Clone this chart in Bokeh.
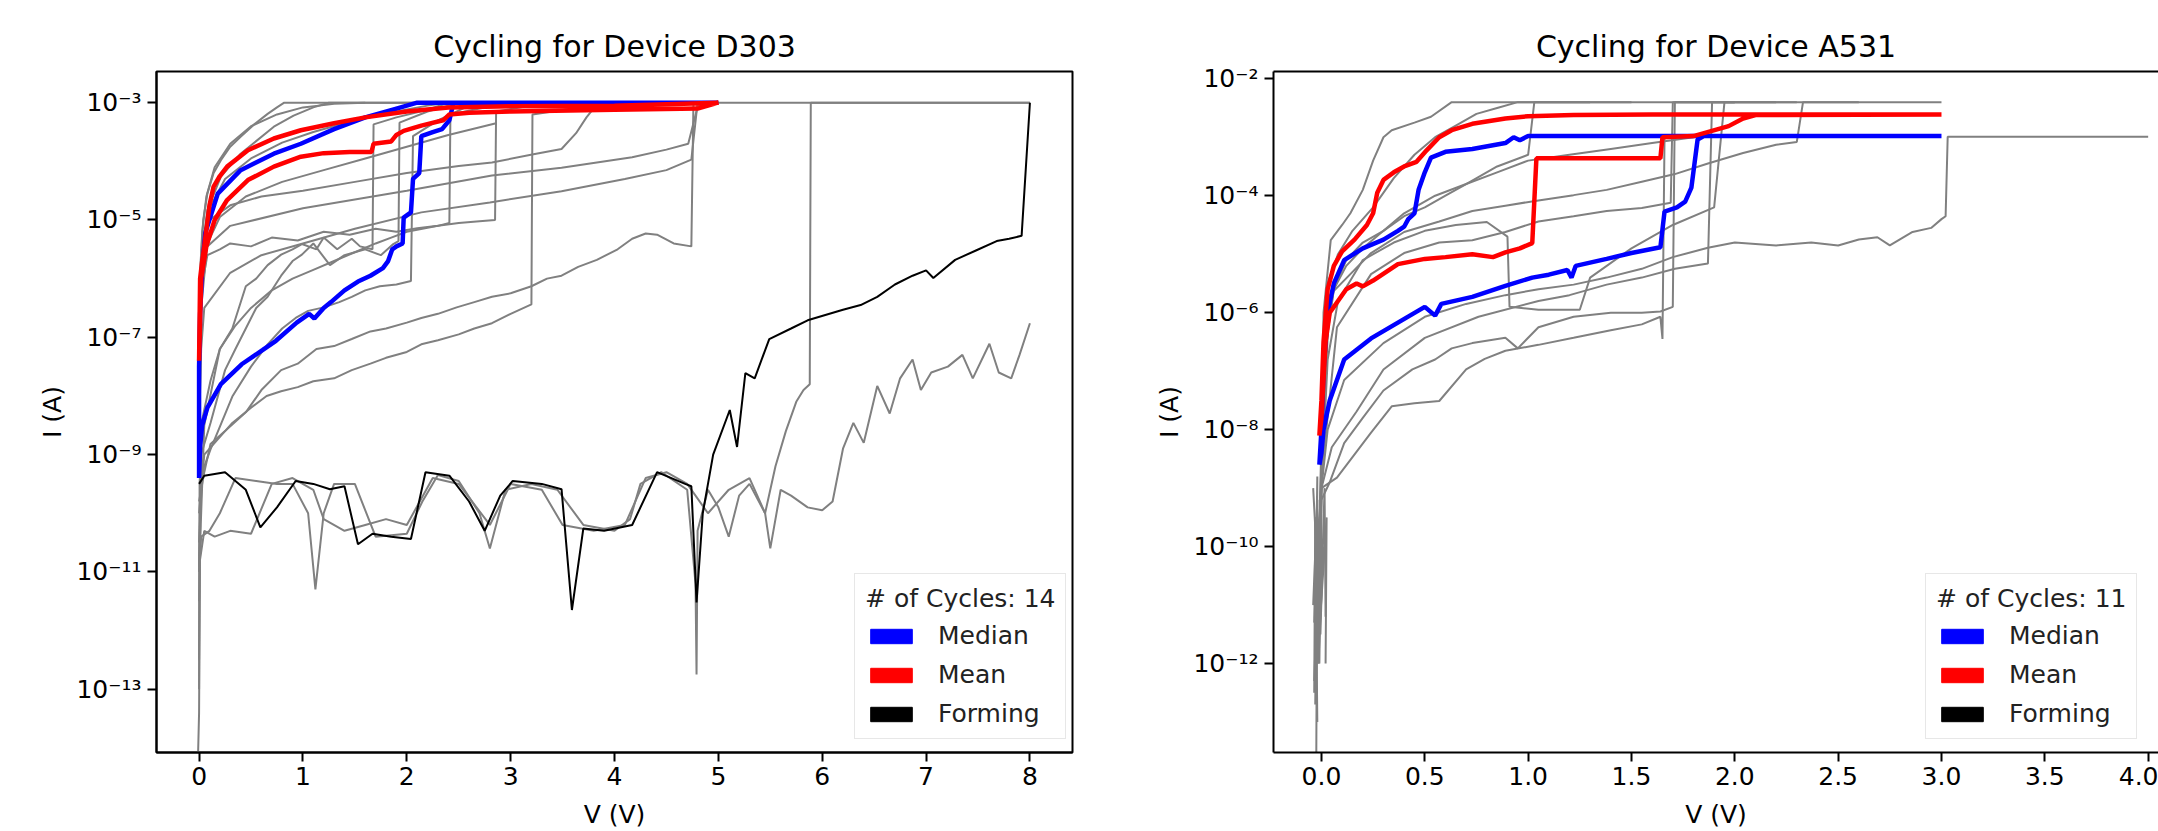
import numpy as np
from bokeh.plotting import figure
from bokeh.models import (Range1d, FixedTicker, CustomJSTickFormatter, PrintfTickFormatter,
                          Legend, LegendItem, LinearAxis)
from bokeh.layouts import row
from bokeh.embed import file_html
from bokeh.resources import INLINE

FONT = "DejaVu Sans"

# ---------------- Device D303 (left) : V in volts, log10 of current in A ----------------
d303_title = "Cycling for Device D303"
d303_cycles_label = "# of Cycles: 14"
d303_xticks = [0, 1, 2, 3, 4, 5, 6, 7, 8]
d303_yticks = [1e-3, 1e-5, 1e-7, 1e-9, 1e-11, 1e-13]

d303_median_v = [0.0, 0.01, 0.03, 0.08, 0.21, 0.41, 0.61, 0.74, 0.94, 1.06, 1.11, 1.2, 1.27, 1.4, 1.53, 1.65, 1.77,
                 1.82, 1.86, 1.9, 1.96, 1.97, 2.04, 2.06, 2.12, 2.14, 2.25, 2.34, 2.41, 2.45, 5.0,
                 2.1, 1.9, 1.6, 1.3, 0.98, 0.72, 0.4, 0.18, 0.06, 0.03, 0.01, 0.0, 0.0]
d303_median_logi = [-9.4, -8.86, -8.5, -8.2, -7.8, -7.46, -7.22, -7.06, -6.75, -6.6, -6.68, -6.5, -6.4, -6.2, -6.05,
                    -5.95, -5.82, -5.7, -5.5, -5.45, -5.4, -4.96, -4.87, -4.3, -4.2, -3.57, -3.5, -3.45, -3.3, -3.0,
                    -3.0, -3.0, -3.1, -3.25, -3.45, -3.7, -3.87, -4.15, -4.55, -5.22, -5.8, -6.6, -7.5, -9.4]

d303_mean_v = [0.0, 0.02, 0.07, 0.15, 0.27, 0.47, 0.72, 0.98, 1.2, 1.45, 1.66, 1.68, 1.85, 1.9, 1.97, 2.14, 2.35,
               2.41, 2.6, 3.0, 4.0, 4.8, 5.0,
               4.0, 3.0, 2.4, 2.0, 1.6, 1.3, 0.98, 0.72, 0.47, 0.27, 0.2, 0.14, 0.1, 0.05, 0.03, 0.01, 0.0]
d303_mean_logi = [-7.4, -6.0, -5.45, -5.0, -4.66, -4.32, -4.09, -3.92, -3.86, -3.84, -3.84, -3.7, -3.66, -3.55, -3.48,
                  -3.39, -3.3, -3.2, -3.17, -3.15, -3.12, -3.1, -3.0,
                  -3.05, -3.06, -3.08, -3.15, -3.25, -3.35, -3.47, -3.61, -3.81, -4.09, -4.25, -4.43, -4.75, -5.45,
                  -5.7, -6.0, -7.4]

d303_forming_v = [0.0, 0.05, 0.25, 0.45, 0.59, 0.75, 0.93, 1.1, 1.26, 1.4, 1.53, 1.67, 1.85, 2.04, 2.18, 2.41, 2.6,
                  2.75, 2.9, 3.02, 3.3, 3.49, 3.59, 3.7, 3.9, 4.17, 4.41, 4.68, 4.74, 4.79, 4.85, 4.95, 5.11, 5.18,
                  5.26, 5.35, 5.49, 5.7, 5.86, 6.03, 6.2, 6.37, 6.53, 6.7, 6.87, 7.0, 7.07, 7.28, 7.48, 7.68, 7.8,
                  7.92, 8.0]
d303_forming_logi = [-9.5, -9.36, -9.3, -9.6, -10.24, -9.9, -9.45, -9.5, -9.59, -9.54, -10.53, -10.35, -10.4, -10.44,
                     -9.3, -9.36, -9.8, -10.3, -9.7, -9.45, -9.5, -9.59, -11.65, -10.26, -10.3, -10.2, -9.3, -9.5,
                     -9.54, -11.52, -10.0, -9.0, -8.24, -8.87, -7.61, -7.7, -7.03, -6.85, -6.71, -6.62, -6.53, -6.45,
                     -6.31, -6.1, -5.95, -5.86, -5.99, -5.68, -5.52, -5.36, -5.32, -5.27, -3.0]

d303_low1_v = [-0.015, 0.0, 0.01, 0.0, 0.02, 0.1, 0.2, 0.35, 0.55, 0.75, 0.9, 1.05, 1.12, 1.2, 1.3, 1.5, 1.7, 2.0,
               2.15, 2.3, 2.5, 2.7, 2.8, 2.95, 3.2, 3.45, 3.7, 4.0, 4.15, 4.25, 4.45, 4.7, 4.78, 4.79, 4.8, 4.9, 5.0,
               5.1, 5.2, 5.3, 5.45, 5.5, 5.6, 5.7, 5.86, 6.0, 6.1, 6.2, 6.3, 6.4, 6.53, 6.65, 6.75, 6.87, 6.95, 7.05,
               7.21, 7.35, 7.45, 7.61, 7.7, 7.82, 7.9, 8.0]
d303_low1_logi = [-14.5, -13.4, -10.2, -11.0, -10.4, -10.3, -10.0, -9.4, -9.45, -9.5, -9.5, -10.0, -11.3, -10.0,
                  -9.5, -9.5, -10.4, -10.35, -9.8, -9.35, -9.45, -10.0, -10.6, -9.6, -9.5, -9.6, -10.2, -10.3, -10.1,
                  -9.5, -9.3, -9.6, -11.2, -12.75, -10.3, -9.6, -9.9, -10.4, -9.7, -9.5, -10.0, -10.6, -9.6, -9.7,
                  -9.9, -9.95, -9.8, -8.9, -8.46, -8.8, -7.83, -8.3, -7.7, -7.38, -7.9, -7.6, -7.5, -7.3, -7.7,
                  -7.11, -7.6, -7.7, -7.3, -6.76]

d303_low2_v = [0.0, 0.01, 0.0, 0.05, 0.15, 0.3, 0.5, 0.7, 0.9, 1.1, 1.2, 1.4, 1.6, 1.8, 2.0, 2.25, 2.5, 2.8, 3.0,
               3.3, 3.5, 3.8, 4.1, 4.3, 4.5, 4.7, 4.9, 5.1, 5.3, 5.45, 5.55, 5.65, 5.75, 5.82, 5.88, 5.89, 8.0]
d303_low2_logi = [-12.5, -9.6, -10.9, -10.3, -10.4, -10.3, -10.35, -9.5, -9.4, -9.6, -10.1, -10.3, -10.2, -10.1,
                  -10.2, -9.4, -9.5, -10.2, -9.5, -9.6, -10.2, -10.3, -10.2, -9.4, -9.3, -9.5, -10.0, -9.6, -9.4,
                  -10.0, -9.2, -8.6, -8.1, -7.9, -7.8, -3.0, -3.0]

d303_f1_v = [0.0, 0.005, 0.03, 0.11, 0.2, 0.32, 0.45, 0.55, 0.66, 0.79, 0.9, 0.99, 1.13, 1.2, 1.33, 1.47, 1.55,
             1.67, 1.68, 1.9, 2.2, 2.4]
d303_f1_logi = [-13.0, -9.5, -8.4, -7.74, -7.2, -6.85, -6.13, -6.0, -5.77, -5.59, -5.5, -5.41, -5.5, -5.3, -5.5,
                -5.32, -5.45, -5.5, -3.37, -3.25, -3.12, -3.0]
d303_f2_v = [0.0, 0.02, 0.11, 0.25, 0.35, 0.45, 0.55, 0.66, 0.79, 0.9, 0.99, 1.1, 1.26, 1.4, 1.6, 1.75, 1.87, 1.92,
             1.93, 2.2, 2.5]
d303_f2_logi = [-11.5, -9.0, -8.46, -7.56, -7.2, -6.85, -6.5, -6.31, -5.95, -5.7, -5.59, -5.4, -5.77, -5.6, -5.5,
                -5.6, -5.41, -5.36, -3.34, -3.15, -3.0]
d303_f3_v = [0.0, 0.03, 0.11, 0.32, 0.5, 0.66, 0.8, 0.93, 1.05, 1.2, 1.35, 1.47, 1.6, 1.74, 1.9, 2.04, 2.06, 2.3, 2.6]
d303_f3_logi = [-10.5, -9.3, -8.91, -8.01, -7.5, -7.12, -6.85, -6.67, -6.55, -6.49, -6.4, -6.31, -6.2, -6.13, -6.1,
                -6.04, -3.57, -3.3, -3.05]
d303_f4_v = [0.0, 0.05, 0.2, 0.35, 0.5, 0.7, 0.9, 1.1, 1.3, 1.5, 1.7, 1.85, 2.0, 2.15, 2.3, 2.41, 2.42, 2.7, 3.0]
d303_f4_logi = [-11.0, -8.5, -7.2, -6.8, -6.5, -6.2, -6.0, -5.85, -5.7, -5.55, -5.4, -5.3, -5.2, -5.15, -5.1, -5.05,
                -3.2, -3.1, -3.0]
d303_f5_v = [0.0, 0.02, 0.08, 0.2, 0.3, 0.5, 0.7, 0.95, 1.2, 1.45, 1.7, 1.9, 2.1, 2.3, 2.5, 2.7, 2.85, 2.86, 3.2, 3.5]
d303_f5_logi = [-9.0, -6.2, -5.6, -5.5, -5.4, -5.45, -5.3, -5.35, -5.2, -5.25, -5.15, -5.2, -5.14, -5.1, -5.05,
                -5.02, -5.0, -3.15, -3.05, -3.0]
d303_f6_v = [0.0, 0.05, 0.15, 0.32, 0.5, 0.65, 0.79, 0.95, 1.1, 1.3, 1.47, 1.65, 1.8, 2.0, 2.14, 2.3, 2.5, 2.65,
             2.82, 3.0, 3.2, 3.21, 3.6, 4.0]
d303_f6_logi = [-10.0, -9.0, -8.8, -8.46, -8.2, -8.0, -7.92, -7.85, -7.75, -7.7, -7.56, -7.45, -7.35, -7.25, -7.12,
                -7.05, -6.95, -6.85, -6.76, -6.6, -6.44, -3.2, -3.1, -3.0]
d303_f7_v = [0.0, 0.05, 0.11, 0.25, 0.45, 0.6, 0.79, 0.95, 1.13, 1.3, 1.47, 1.65, 1.8, 2.0, 2.14, 2.3, 2.48, 2.65,
             2.82, 3.0, 3.2, 3.35, 3.49, 3.65, 3.83, 4.03, 4.17, 4.3, 4.41, 4.57, 4.74, 4.76, 5.0]
d303_f7_logi = [-9.8, -9.3, -8.82, -8.6, -8.28, -7.9, -7.56, -7.45, -7.2, -7.15, -7.03, -6.9, -6.85, -6.75, -6.67,
                -6.6, -6.49, -6.4, -6.31, -6.25, -6.13, -6.0, -5.95, -5.8, -5.68, -5.5, -5.32, -5.23, -5.25, -5.4,
                -5.45, -3.0, -3.0]
d303_f8_v = [0.0, 0.01, 0.04, 0.1, 0.3, 0.6, 1.0, 1.5, 2.0, 2.5, 2.82, 3.22, 3.49, 3.63, 3.73, 3.83, 3.9]
d303_f8_logi = [-7.5, -6.0, -5.3, -5.0, -4.75, -4.6, -4.5, -4.35, -4.2, -4.08, -4.02, -3.88, -3.79, -3.52, -3.25,
                -3.03, -3.0]
d303_f9_v = [0.0, 0.01, 0.05, 0.3, 1.0, 2.0, 2.82, 3.49, 4.17, 4.5, 4.71, 4.81]
d303_f9_logi = [-8.0, -6.5, -5.5, -5.1, -4.8, -4.5, -4.24, -4.11, -3.93, -3.8, -3.7, -3.0]
d303_f10_v = [0.0, 0.02, 0.05, 0.3, 0.6, 1.0, 1.5, 2.14, 2.8, 3.49, 4.1, 4.5, 4.74, 4.8]
d303_f10_logi = [-8.5, -7.2, -6.5, -5.9, -5.6, -5.4, -5.15, -4.87, -4.7, -4.51, -4.3, -4.15, -3.97, -3.0]

d303_r1_v = [0.0, 0.005, 0.016, 0.04, 0.08, 0.14, 0.21, 0.3, 0.4, 0.53, 0.66, 0.75, 0.82, 8.0]
d303_r1_logi = [-8.0, -6.5, -5.68, -5.0, -4.55, -4.2, -3.98, -3.75, -3.58, -3.37, -3.19, -3.08, -3.0, -3.0]
d303_r2_v = [0.0, 0.01, 0.03, 0.08, 0.21, 0.4, 0.72, 0.91, 1.1, 1.25, 2.5]
d303_r2_logi = [-8.5, -6.3, -5.5, -4.83, -4.26, -3.87, -3.41, -3.22, -3.08, -3.0, -3.0]
d303_r3_v = [0.0, 0.01, 0.04, 0.1, 0.25, 0.5, 0.8, 1.1, 1.5, 1.9, 2.2, 2.4]
d303_r3_logi = [-9.0, -6.5, -5.4, -4.8, -4.3, -3.95, -3.68, -3.5, -3.3, -3.15, -3.05, -3.0]
d303_r4_v = [0.0, 0.02, 0.08, 0.2, 0.45, 0.8, 1.2, 1.6, 2.0, 2.4, 2.86]
d303_r4_logi = [-9.2, -6.5, -5.4, -4.95, -4.6, -4.35, -4.15, -3.95, -3.75, -3.55, -3.35]
d303_r5_v = [0.0, 0.01, 0.03, 0.07, 0.15, 0.3, 0.5, 0.75, 1.0, 1.3, 1.6]
d303_r5_logi = [-7.8, -6.0, -5.2, -4.6, -4.1, -3.7, -3.4, -3.2, -3.08, -3.02, -3.0]

# ---------------- Device A531 (right) ----------------
a531_title = "Cycling for Device A531"
a531_cycles_label = "# of Cycles: 11"
a531_xticks = [0.0, 0.5, 1.0, 1.5, 2.0, 2.5, 3.0, 3.5, 4.0]
a531_yticks = [1e-2, 1e-4, 1e-6, 1e-8, 1e-10, 1e-12]

a531_median_v = [-0.01, 0.0, 0.01, 0.04, 0.11, 0.24, 0.37, 0.5, 0.55, 0.58, 0.73, 0.89, 1.02, 1.1, 1.19, 1.21, 1.23,
                 1.38, 1.5, 1.64, 1.66, 1.72, 1.76, 1.79, 1.82, 1.85, 3.0,
                 1.0, 0.96, 0.93, 0.89, 0.73, 0.6, 0.53, 0.5, 0.47, 0.45, 0.42, 0.4, 0.37, 0.3, 0.2, 0.11, 0.06,
                 0.03, 0.01, 0.0, -0.01]
a531_median_logi = [-8.6, -8.4, -8.0, -7.5, -6.8, -6.44, -6.17, -5.9, -6.05, -5.85, -5.73, -5.54, -5.4, -5.35, -5.27,
                    -5.4, -5.2, -5.08, -4.98, -4.88, -4.27, -4.2, -4.1, -3.86, -3.04, -2.98, -2.98,
                    -2.98, -3.05, -3.0, -3.1, -3.2, -3.25, -3.35, -3.6, -3.9, -4.3, -4.4, -4.53, -4.6, -4.75, -4.9,
                    -5.1, -5.5, -6.0, -7.0, -8.0, -8.6]

a531_mean_v = [-0.01, 0.0, 0.02, 0.04, 0.08, 0.12, 0.17, 0.2, 0.25, 0.37, 0.5, 0.6, 0.73, 0.83, 0.89, 0.96, 1.02,
               1.04, 1.2, 1.4, 1.64, 1.65, 1.8, 1.97, 2.04, 2.1, 3.0,
               1.6, 1.22, 1.0, 0.89, 0.73, 0.63, 0.57, 0.51, 0.46, 0.4, 0.35, 0.3, 0.27, 0.25, 0.22, 0.16, 0.1,
               0.06, 0.03, 0.01, 0.0, -0.01]
a531_mean_logi = [-8.1, -7.8, -6.5, -6.0, -5.8, -5.6, -5.5, -5.55, -5.45, -5.17, -5.08, -5.05, -5.0, -5.05, -4.97,
                  -4.9, -4.81, -3.36, -3.36, -3.36, -3.36, -3.0, -2.98, -2.81, -2.68, -2.62, -2.61,
                  -2.61, -2.62, -2.64, -2.68, -2.77, -2.88, -3.0, -3.22, -3.42, -3.5, -3.6, -3.73, -3.95, -4.3, -4.5,
                  -4.75, -4.95, -5.2, -5.6, -6.5, -7.5, -8.1]

a531_g1_v = [-0.03, -0.035, -0.02, -0.025, 0.0, 0.01, 0.045, 0.1, 0.14, 0.2, 0.25, 0.3, 0.34, 0.45, 0.53, 0.63, 3.0]
a531_g1_logi = [-9.5, -12.5, -8.8, -11.8, -8.5, -6.0, -4.76, -4.5, -4.3, -3.9, -3.4, -3.0, -2.88, -2.75, -2.65,
                -2.4, -2.4]
a531_g2_v = [-0.04, -0.01, -0.03, 0.005, 0.03, 0.08, 0.15, 0.25, 0.35, 0.45, 0.55, 0.65, 0.75, 0.85, 0.95, 1.3]
a531_g2_logi = [-9.0, -11.0, -12.4, -7.5, -5.5, -5.0, -4.6, -4.2, -3.7, -3.3, -3.0, -2.8, -2.6, -2.5, -2.4, -2.4]
a531_g3_v = [-0.03, -0.02, -0.04, 0.0, 0.02, 0.06, 0.12, 0.2, 0.3, 0.4, 0.5, 0.6, 0.7, 0.85, 1.0, 1.03, 1.5]
a531_g3_logi = [-12.7, -9.2, -11.0, -9.0, -6.5, -5.6, -5.2, -4.9, -4.6, -4.35, -4.2, -4.0, -3.8, -3.5, -3.3, -2.4,
                -2.4]
a531_g4_v = [-0.02, -0.03, -0.01, 0.0, 0.075, 0.24, 0.34, 0.45, 0.57, 0.7, 0.79, 0.89, 1.05, 1.22, 1.4, 1.55, 1.64,
             1.65, 1.66, 2.0]
a531_g4_logi = [-13.0, -9.5, -12.0, -9.0, -8.82, -8.05, -7.6, -7.55, -7.51, -6.97, -6.79, -6.65, -6.55, -6.43, -6.3,
                -6.2, -6.07, -6.45, -2.98, -2.98]
a531_g5_v = [-0.015, 0.01, -0.02, 0.0, 0.04, 0.11, 0.2, 0.3, 0.44, 0.55, 0.63, 0.73, 0.89, 0.95, 1.05, 1.22, 1.4,
             1.55, 1.64, 1.7, 1.71, 2.0]
a531_g5_logi = [-12.0, -10.0, -11.5, -9.2, -8.9, -8.23, -7.8, -7.33, -6.97, -6.8, -6.61, -6.52, -6.43, -6.61, -6.25,
                -6.07, -6.0, -6.0, -5.98, -5.9, -2.4, -2.4]
a531_g6_v = [0.02, 0.015, -0.005, 0.0, 0.05, 0.17, 0.3, 0.5, 0.76, 1.05, 1.2, 1.38, 1.55, 1.71, 1.87, 1.89, 2.2]
a531_g6_logi = [-11.2, -9.0, -11.5, -9.0, -8.3, -7.69, -6.97, -6.43, -6.07, -5.8, -5.7, -5.52, -5.4, -5.25, -5.16,
                -2.4, -2.4]
a531_g7_v = [-0.025, -0.02, -0.035, 0.0, 0.03, 0.11, 0.3, 0.5, 0.7, 0.89, 1.05, 1.22, 1.38, 1.55, 1.7, 1.87, 2.0,
             2.2, 2.37, 2.5, 2.6, 2.69, 2.75, 2.86, 2.95, 3.0, 3.02, 3.03, 4.0]
a531_g7_logi = [-13.6, -9.5, -11.3, -9.0, -8.0, -7.15, -6.52, -6.07, -5.85, -5.7, -5.6, -5.52, -5.4, -5.25, -5.05,
                -4.89, -4.8, -4.85, -4.8, -4.85, -4.75, -4.71, -4.85, -4.62, -4.55, -4.4, -4.35, -2.99, -2.99]
a531_g8_v = [-0.01, 0.0, 0.04, 0.24, 0.4, 0.57, 0.73, 0.89, 1.05, 1.22, 1.38, 1.55, 1.71, 1.87, 2.04, 2.2, 2.3,
             2.33, 2.6]
a531_g8_logi = [-10.5, -8.6, -5.7, -4.98, -4.62, -4.44, -4.26, -4.17, -4.08, -3.99, -3.9, -3.76, -3.63, -3.45,
                -3.27, -3.13, -3.08, -2.4, -2.4]
a531_g9_v = [-0.035, 0.0, 0.075, 0.24, 0.4, 0.57, 0.73, 0.89, 1.05, 1.22, 1.38, 1.55, 1.69, 1.7, 2.0]
a531_g9_logi = [-12.3, -8.8, -6.25, -5.34, -4.98, -4.8, -4.76, -4.62, -4.44, -4.35, -4.26, -4.21, -4.12, -2.4, -2.4]
a531_g10_v = [0.02, 0.025, -0.02, 0.0, 0.03, 0.08, 0.2, 0.35, 0.5, 0.65, 0.8, 0.9, 0.91, 1.05, 1.25, 1.3, 1.5, 1.7,
              1.9, 1.95, 2.3]
a531_g10_logi = [-12.0, -9.5, -12.0, -9.0, -6.8, -5.8, -5.1, -4.8, -4.6, -4.5, -4.45, -4.7, -5.9, -5.95, -5.95, -5.4,
                 -4.9, -4.5, -4.2, -2.4, -2.4]
a531_g11_v = [-0.03, 0.0, 0.02, 0.06, 0.12, 0.2, 0.3, 0.4, 0.55, 0.7, 0.85, 1.0, 1.2, 1.4, 1.6, 1.8]
a531_g11_logi = [-11.8, -8.8, -6.6, -5.6, -5.1, -4.8, -4.6, -4.3, -4.0, -3.8, -3.6, -3.4, -3.3, -3.2, -3.1, -3.0]

d303_gray = [(d303_low1_v, d303_low1_logi), (d303_low2_v, d303_low2_logi),
             (d303_f1_v, d303_f1_logi), (d303_f2_v, d303_f2_logi), (d303_f3_v, d303_f3_logi),
             (d303_f4_v, d303_f4_logi), (d303_f5_v, d303_f5_logi), (d303_f6_v, d303_f6_logi),
             (d303_f7_v, d303_f7_logi), (d303_f8_v, d303_f8_logi), (d303_f9_v, d303_f9_logi),
             (d303_f10_v, d303_f10_logi),
             (d303_r1_v, d303_r1_logi), (d303_r2_v, d303_r2_logi), (d303_r3_v, d303_r3_logi),
             (d303_r4_v, d303_r4_logi), (d303_r5_v, d303_r5_logi)]
a531_gray = [(a531_g1_v, a531_g1_logi), (a531_g2_v, a531_g2_logi), (a531_g3_v, a531_g3_logi),
             (a531_g4_v, a531_g4_logi), (a531_g5_v, a531_g5_logi), (a531_g6_v, a531_g6_logi),
             (a531_g7_v, a531_g7_logi), (a531_g8_v, a531_g8_logi), (a531_g9_v, a531_g9_logi),
             (a531_g10_v, a531_g10_logi), (a531_g11_v, a531_g11_logi)]

legend_labels = ["Median", "Mean", "Forming"]
legend_colors = ["blue", "red", "black"]

SUP_JS = """
const e = Math.round(Math.log10(tick));
const m = {"-": "\u207b", "0": "\u2070", "1": "\u00b9", "2": "\u00b2", "3": "\u00b3", "4": "\u2074",
           "5": "\u2075", "6": "\u2076", "7": "\u2077", "8": "\u2078", "9": "\u2079"};
return "10" + String(e).split("").map(c => m[c]).join("");
"""

FIG_H = 831


def cur(logi):
    return np.power(10.0, np.array(logi, dtype=float))


def style_axis(ax):
    ax.axis_line_width = 2
    ax.axis_line_color = "black"
    ax.major_tick_line_width = 2
    ax.major_tick_line_color = "black"
    ax.major_tick_out = 9
    ax.major_tick_in = 0
    ax.minor_tick_line_color = None
    ax.major_label_text_font = FONT
    ax.major_label_text_font_size = "25px"
    ax.major_label_text_color = "black"
    ax.axis_label_text_font = FONT
    ax.axis_label_text_font_size = "25px"
    ax.axis_label_text_font_style = "normal"
    ax.axis_label_text_color = "black"


def make_fig(title, width, xr, yr, xticks, yticks, mbl, mbr):
    p = figure(width=width, height=FIG_H, x_range=Range1d(*xr), y_range=Range1d(*yr), y_axis_type="log",
               output_backend="svg", toolbar_location=None, title=title,
               min_border_left=mbl, min_border_right=mbr, min_border_top=71, min_border_bottom=77)
    p.background_fill_color = "white"
    p.border_fill_color = "white"
    p.xgrid.visible = False
    p.ygrid.visible = False
    p.title.align = "center"
    p.title.text_font = FONT
    p.title.text_font_size = "30px"
    p.title.text_font_style = "normal"
    p.title.text_color = "black"
    p.title.standoff = 15
    p.xaxis.axis_label = "V (V)"
    p.yaxis.axis_label = "I (A)"
    style_axis(p.xaxis[0])
    style_axis(p.yaxis[0])
    p.xaxis.ticker = FixedTicker(ticks=xticks, minor_ticks=[])
    p.yaxis.ticker = FixedTicker(ticks=yticks, minor_ticks=[])
    p.yaxis.formatter = CustomJSTickFormatter(code=SUP_JS)
    p.xaxis.major_label_standoff = 5
    p.yaxis.major_label_standoff = 6
    p.yaxis.axis_label_standoff = 6
    p.xaxis.axis_label_standoff = 12
    p.xaxis.axis_label_text_line_height = 0.6
    return p


def add_legend(p, label, location):
    rs = []
    for c in legend_colors:
        rs.append(p.quad(left=[np.nan], right=[np.nan], top=[np.nan], bottom=[np.nan],
                         fill_color=c, line_color=c))
    leg = Legend(items=[LegendItem(label=t, renderers=[r]) for t, r in zip(legend_labels, rs)],
                 title=label, location=location)
    leg.title_text_font = FONT
    leg.title_text_font_size = "25px"
    leg.title_text_font_style = "normal"
    leg.title_text_color = "#222222"
    leg.label_text_font = FONT
    leg.label_text_font_size = "25px"
    leg.label_text_color = "#222222"
    leg.glyph_width = 52
    leg.glyph_height = 18
    leg.label_standoff = 21
    leg.spacing = 10
    leg.padding = 10
    leg.margin = 0
    leg.title_standoff = 8
    leg.border_line_color = "#d0d0d0"
    leg.border_line_width = 1.5
    leg.background_fill_alpha = 0.9
    p.add_layout(leg)


# ---------- left ----------
p1 = make_fig(d303_title, 1108, (-0.41, 8.41), (10 ** -14.08, 10 ** -2.468), d303_xticks, d303_yticks, 156, 36)
p1.outline_line_color = "black"
p1.outline_line_width = 2
for v, li in d303_gray:
    p1.line(v, cur(li), line_color="#808080", line_width=2)
p1.line(d303_forming_v, cur(d303_forming_logi), line_color="black", line_width=2)
p1.line(d303_median_v, cur(d303_median_logi), line_color="blue", line_width=4.5)
p1.line(d303_mean_v, cur(d303_mean_logi), line_color="red", line_width=4.5)
add_legend(p1, d303_cycles_label, (698, 13))

# ---------- right ----------
p2 = make_fig(a531_title, 1050, (-0.232, 4.05), (10 ** -13.52, 10 ** -1.876), a531_xticks, a531_yticks, 165, 0)
p2.outline_line_color = None
p2.xaxis.formatter = PrintfTickFormatter(format="%.1f")
top_ax = LinearAxis(ticker=FixedTicker(ticks=[]), axis_line_width=2, axis_line_color="black",
                    major_tick_line_color=None, minor_tick_line_color=None, major_tick_out=0, major_tick_in=0,
                    major_label_standoff=0, major_label_text_font_size="0px")
p2.add_layout(top_ax, "above")
for v, li in a531_gray:
    p2.line(v, cur(li), line_color="#808080", line_width=2)
p2.line(a531_median_v, cur(a531_median_logi), line_color="blue", line_width=4.5)
p2.line(a531_mean_v, cur(a531_mean_logi), line_color="red", line_width=4.5)
add_legend(p2, a531_cycles_label, (652, 13))

layout = row(p1, p2)
html = file_html(layout, INLINE, title="Cycling")
open("out.html", "w", encoding="utf-8").write(html)
